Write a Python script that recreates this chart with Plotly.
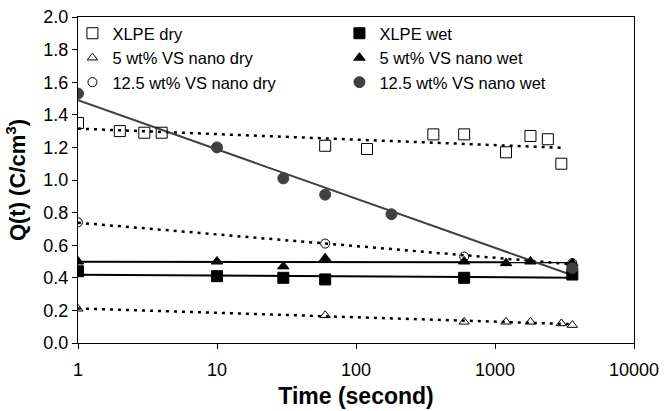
import numpy as np
import plotly.graph_objects as go

# ---- data (time in s, Q in C/cm^3) ----
xlpe_dry_t = [1, 2, 3, 4, 60, 120, 360, 600, 1200, 1800, 2400, 3000]
xlpe_dry_q = [1.35, 1.30, 1.29, 1.29, 1.21, 1.19, 1.28, 1.28, 1.17, 1.27, 1.25, 1.10]

xlpe_wet_t = [1, 10, 30, 60, 600, 3600]
xlpe_wet_q = [0.44, 0.41, 0.40, 0.39, 0.40, 0.42]

vs5_dry_t = [1, 60, 600, 1200, 1800, 3000, 3600]
vs5_dry_q = [0.21, 0.17, 0.13, 0.13, 0.13, 0.12, 0.11]

vs5_wet_t = [1, 10, 30, 60, 600, 1200, 1800, 3600]
vs5_wet_q = [0.50, 0.50, 0.47, 0.52, 0.50, 0.49, 0.50, 0.49]

vs125_dry_t = [1, 60, 600, 3600]
vs125_dry_q = [0.74, 0.61, 0.53, 0.49]

vs125_wet_t = [1, 10, 30, 60, 180, 3600]
vs125_wet_q = [1.53, 1.20, 1.01, 0.91, 0.79, 0.46]

x_tick_vals = [1, 10, 100, 1000, 10000]
x_tick_text = ["1", "10", "100", "1000", "10000"]

series = [
    ("XLPE dry", xlpe_dry_t, xlpe_dry_q, "square-open", 11, "black", "dry"),
    ("XLPE wet", xlpe_wet_t, xlpe_wet_q, "square", 11, "black", "wet"),
    ("5 wt% VS nano dry", vs5_dry_t, vs5_dry_q, "triangle-up-open", 9, "black", "dry"),
    ("5 wt% VS nano wet", vs5_wet_t, vs5_wet_q, "triangle-up", 10, "black", "wet"),
    ("12.5 wt% VS nano dry", vs125_dry_t, vs125_dry_q, "circle-open", 9, "black", "dry"),
    ("12.5 wt% VS nano wet", vs125_wet_t, vs125_wet_q, "circle", 11, "#404040", "wet"),
]

fig = go.Figure()

# trend lines (logarithmic fits)
for name, t, q, sym, sz, col, kind in series:
    lt = np.log10(np.array(t, dtype=float))
    b, a = np.polyfit(lt, np.array(q, dtype=float), 1)
    xs = np.array([min(t), max(t)], dtype=float)
    ys = a + b * np.log10(xs)
    if kind == "dry":
        line = dict(color="black", width=2.5, dash="3px,5px")
    else:
        line = dict(color=col, width=2)
    fig.add_trace(go.Scatter(x=xs, y=ys, mode="lines", line=line,
                             showlegend=False, hoverinfo="skip"))

for name, t, q, sym, sz, col, kind in series:
    fig.add_trace(go.Scatter(
        x=t, y=q, mode="markers", name=name,
        marker=dict(symbol=sym, size=sz, color=col,
                    line=dict(color=col, width=1)),
    ))

fig.update_layout(
    width=669, height=411,
    margin=dict(l=78, r=35, t=17, b=68, autoexpand=False),
    paper_bgcolor="white", plot_bgcolor="white",
    font=dict(family="Liberation Sans, Arial", color="black", size=18),
    legend=dict(orientation="h", x=-0.01, y=1.003, xanchor="left", yanchor="top",
                entrywidth=222, entrywidthmode="pixels",
                bgcolor="rgba(0,0,0,0)", font=dict(size=16.5),
                itemwidth=30, traceorder="normal"),
    xaxis=dict(type="log", range=[0, 4], tickvals=x_tick_vals,
               ticktext=x_tick_text,
               showgrid=False, zeroline=False, showline=True, linecolor="black",
               linewidth=1, mirror=True, ticks="outside", ticklen=5,
               tickcolor="black", ticklabelstandoff=5,
               title=dict(text="<b>Time (second)</b>", font=dict(size=23), standoff=9)),
    yaxis=dict(range=[0, 2], dtick=0.2, tickformat=".1f",
               showgrid=False, zeroline=False, showline=True, linecolor="black",
               linewidth=1, mirror=True, ticks="outside", ticklen=5,
               tickcolor="black",
               title=dict(text="<b>Q(t) (C/cm<sup>3</sup>)</b>", font=dict(size=22), standoff=11)),
)

fig.write_html("out.html")
